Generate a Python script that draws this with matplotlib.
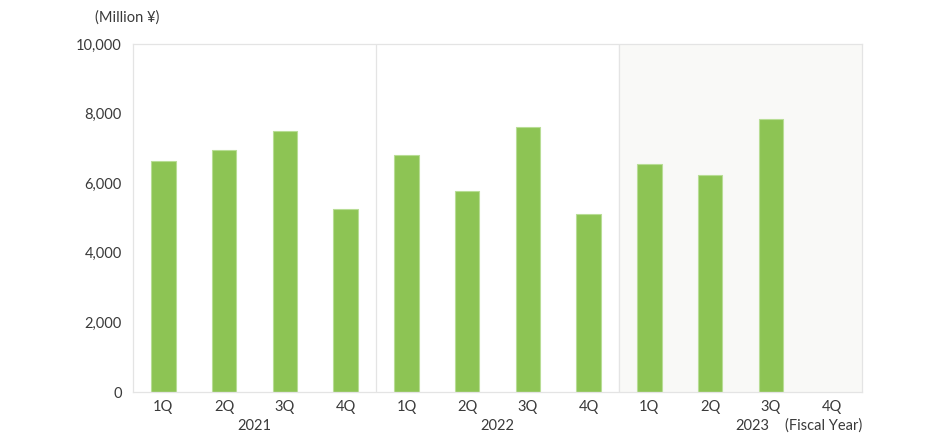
import matplotlib.pyplot as plt
import numpy as np

# Quarterly values (Million yen)
years = ['2021', '2022', '2023']
quarters = ['1Q', '2Q', '3Q', '4Q']
values_2021 = [6640, 6955, 7510, 5260]
values_2022 = [6815, 5770, 7615, 5115]
values_2023 = [6545, 6230, 7835, np.nan]
yticks = [0, 2000, 4000, 6000, 8000, 10000]

plt.rcParams['font.family'] = ['Lato', 'DejaVu Sans']
text_color = '#3a3a3a'

fig = plt.figure(figsize=(9.3, 4.41), dpi=100)
ax = fig.add_axes([133 / 930, 1 - 392 / 441, 729 / 930, 348 / 441])

all_values = values_2021 + values_2022 + values_2023
x = np.arange(len(all_values))

# shaded current year
ax.axvspan(7.5, 11.5, color='#f9f9f7', zorder=0)
for sep in [3.5, 7.5]:
    ax.axvline(sep, color='#e4e4e4', lw=0.9, zorder=1)

ax.bar(x, all_values, width=0.4, color='#8dc454', edgecolor='#b8dd95',
       linewidth=0.8, zorder=2)

ax.set_xlim(-0.5, 11.5)
ax.set_ylim(0, 10000)
ax.set_yticks(yticks)
ax.set_yticklabels([f'{v:,}' for v in yticks], fontsize=10.5, color=text_color)
ax.set_xticks(x)
ax.set_xticklabels(quarters * 3, fontsize=10.5, color=text_color)
ax.tick_params(length=0, pad=6)
ax.tick_params(axis='y', pad=8)

for sp in ax.spines.values():
    sp.set_color('#e4e4e4')
    sp.set_linewidth(0.9)

# year labels under the quarter labels
for i, yr in enumerate(years):
    xc = i * 4 + 1.5
    if yr == '2023':
        xc += 0.2
    ax.text(xc, -0.097, yr, transform=ax.get_xaxis_transform(),
            ha='center', va='center', fontsize=10.5, color=text_color)
ax.text(11.5, -0.097, '(Fiscal Year)', transform=ax.get_xaxis_transform(),
        ha='right', va='center', fontsize=10.5, color=text_color)

fig.text(95 / 930, 1 - 18 / 441, '(Million ¥)', ha='left', va='center',
         fontsize=10.5, color=text_color)

fig.savefig('out.png', dpi=100)
